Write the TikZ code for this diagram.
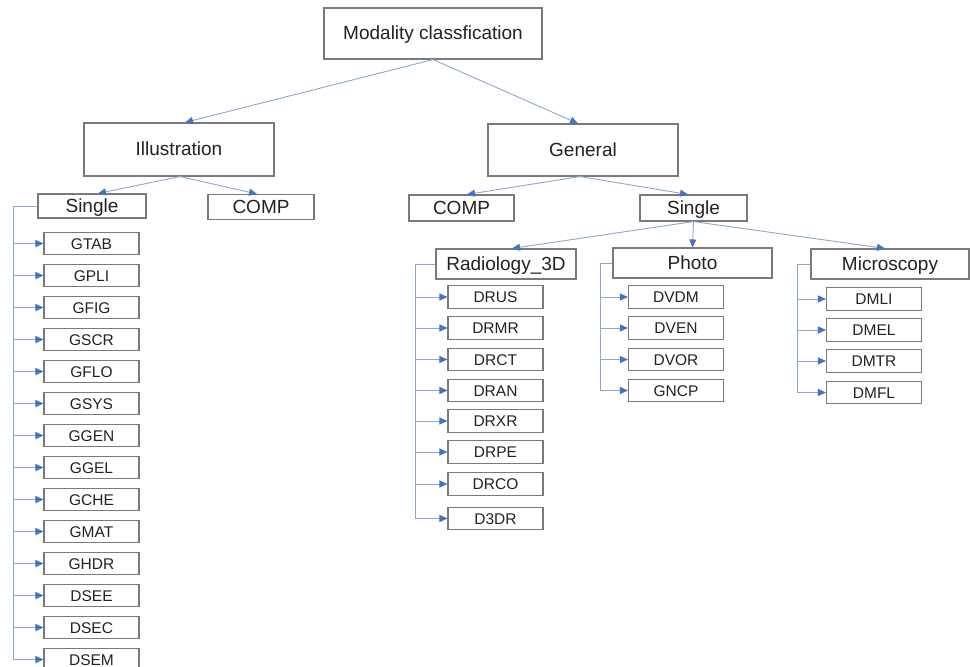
\documentclass[tikz,border=0pt]{standalone}
\usepackage{fontspec}
\setmainfont{Liberation Sans}
\usetikzlibrary{arrows.meta}
\definecolor{boxgray}{HTML}{7A7A7A}
\definecolor{linecol}{HTML}{8EA8C8}
\definecolor{tipcol}{HTML}{4472C4}
\definecolor{txt}{HTML}{222222}
\begin{document}
\begin{tikzpicture}[x=1pt,y=-1pt,
  box/.style={draw=boxgray,line width=1.1pt,fill=white,inner sep=0pt,text=txt,
    font=\fontsize{19}{22}\selectfont,text height=13.6pt,text depth=1pt},
  leaf/.style={box,minimum width=95pt,minimum height=22.5pt,
    font=\fontsize{15.5}{18}\selectfont,text height=11.1pt,text depth=0pt},
  conn/.style={draw=linecol,line width=0.9pt},
  arr/.style={conn,-{Triangle[length=8pt,width=7pt,color=tipcol]}}]
\useasboundingbox (0,0) rectangle (970,667);
\fill[white] (0,0) rectangle (970,667);

% main nodes
\node[box,minimum width=218pt,minimum height=51pt] (top) at (433,33.5) {Modality classfication};
\node[box,minimum width=190pt,minimum height=53pt] (ill) at (179,149.5) {Illustration};
\node[box,minimum width=190pt,minimum height=52pt] (gen) at (583,150) {General};
\node[box,minimum width=108pt,minimum height=24pt] (lsin) at (92,206) {Single};
\node[box,minimum width=106pt,minimum height=25pt] (lcomp) at (261,207) {COMP};
\node[box,minimum width=105pt,minimum height=26pt] (gcomp) at (461.5,208) {COMP};
\node[box,minimum width=107pt,minimum height=26pt] (gsin) at (693.5,208) {Single};
\node[box,minimum width=140pt,minimum height=30pt] (rad) at (506,264) {Radiology\_3D};
\node[box,minimum width=159pt,minimum height=30pt] (pho) at (692.5,263) {Photo};
\node[box,minimum width=158pt,minimum height=30pt] (mic) at (890,264) {Microscopy};

% tree arrows
\draw[arr] (top.south) -- ([xshift=6pt]ill.north);
\draw[arr] (top.south) -- ([xshift=-5pt]gen.north);
\draw[arr] ([xshift=1pt]ill.south) -- ([xshift=6pt]lsin.north);
\draw[arr] ([xshift=1pt]ill.south) -- ([xshift=-4pt]lcomp.north);
\draw[arr] ([xshift=-3pt]gen.south) -- ([xshift=5.5pt]gcomp.north);
\draw[arr] ([xshift=-3pt]gen.south) -- ([xshift=-5.5pt]gsin.north);
\draw[arr] (gsin.south) -- ([xshift=6pt]rad.north);
\draw[arr] (gsin.south) -- (pho.north);
\draw[arr] (gsin.south) -- ([xshift=-5pt]mic.north);

% Illustration / Single leaves
\foreach \t [count=\i] in {GTAB,GPLI,GFIG,GSCR,GFLO,GSYS,GGEN,GGEL,GCHE,GMAT,GHDR,DSEE,DSEC,DSEM}
  \node[leaf] (L\i) at (91.5,{243.5+32*(\i-1)}) {\t};
\coordinate (lb) at (13,206);
\draw[conn] (lsin.west) -- (lb) -- (lb |- L14.west);
\foreach \i in {1,...,14} \draw[arr] (lb |- L\i.west) -- (L\i.west);

% Radiology leaves
\foreach \t/\y [count=\i] in {DRUS/297,DRMR/328,DRCT/359.5,DRAN/390.5,DRXR/421,DRPE/452,DRCO/484,D3DR/518.5}
  \node[leaf] (R\i) at (495.5,\y) {\t};
\coordinate (rb) at (415,264);
\draw[conn] (rad.west) -- (rb) -- (rb |- R8.west);
\foreach \i in {1,...,8} \draw[arr] (rb |- R\i.west) -- (R\i.west);

% Photo leaves
\foreach \t/\y [count=\i] in {DVDM/297,DVEN/328,DVOR/359.5,GNCP/390.5}
  \node[leaf] (P\i) at (676,\y) {\t};
\coordinate (pb) at (600,263);
\draw[conn] (pho.west) -- (pb) -- (pb |- P4.west);
\foreach \i in {1,...,4} \draw[arr] (pb |- P\i.west) -- (P\i.west);

% Microscopy leaves
\foreach \t/\y [count=\i] in {DMLI/299,DMEL/330,DMTR/361,DMFL/392.5}
  \node[leaf] (M\i) at (874,\y) {\t};
\coordinate (mb) at (797,264);
\draw[conn] (mic.west) -- (mb) -- (mb |- M4.west);
\foreach \i in {1,...,4} \draw[arr] (mb |- M\i.west) -- (M\i.west);
\end{tikzpicture}
\end{document}
